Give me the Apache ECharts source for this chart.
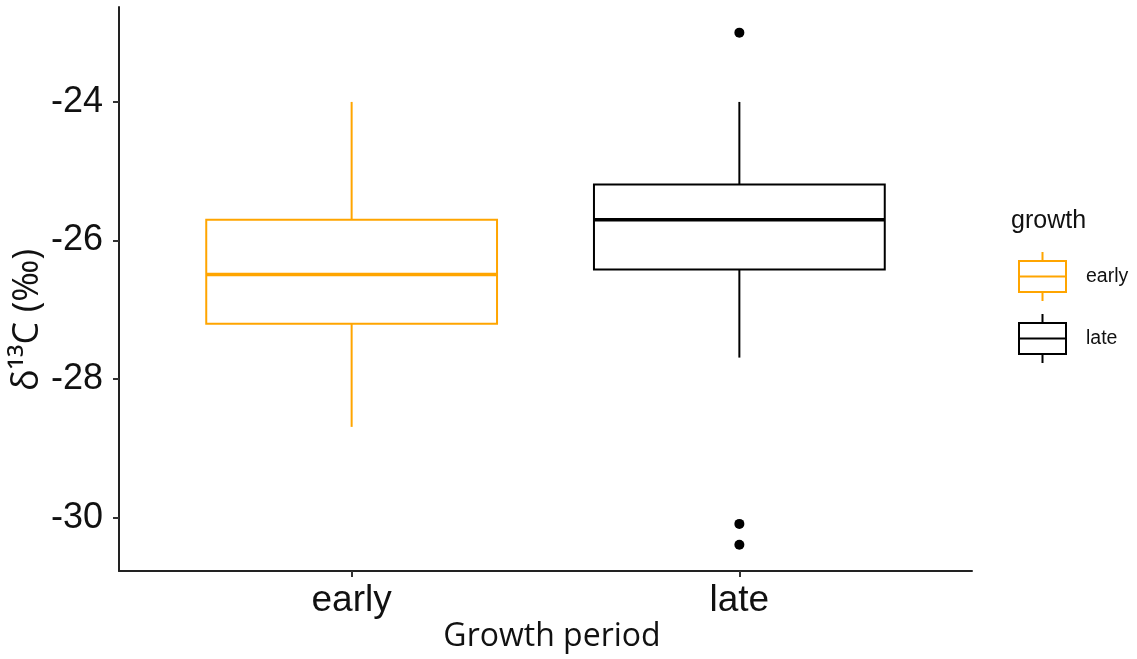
<!DOCTYPE html>
<html><head><meta charset="utf-8">
<script src="https://cdn.jsdelivr.net/npm/echarts@6/dist/echarts.min.js"></script>
<style>html,body{margin:0;padding:0;background:#fff}#c{width:1137px;height:659px}</style>
</head><body><div id="c"></div>
<script>
// ---- data ----
const categories = ['early', 'late'];
const yTicks = [-30, -28, -26, -24];
// box stats: [min whisker, Q1, median, Q3, max whisker]
const earlyStats = [-28.69, -27.20, -26.49, -25.70, -24.00];
const lateStats  = [-27.69, -26.42, -25.70, -25.19, -24.00];
const lateOutliers = [-23.00, -30.09, -30.39];
const groupColors = ['#FFA500', '#000000'];

// ---- chart ----
const chart = echarts.init(document.getElementById('c'), null, {renderer: 'canvas'});
const numFont = '"Liberation Sans", Arial, sans-serif';
const titleFont = '"Open Sans", "Noto Sans", sans-serif';

function makeRender(color) {
  return function (params, api) {
    const x = api.value(0);
    const lo = api.coord([x, api.value(1)]);
    const q1 = api.coord([x, api.value(2)]);
    const med = api.coord([x, api.value(3)]);
    const q3 = api.coord([x, api.value(4)]);
    const hi = api.coord([x, api.value(5)]);
    const w = api.size([0.75, 0])[0];
    const cx = med[0];
    return {
      type: 'group',
      children: [
        {type: 'line', shape: {x1: cx, y1: hi[1], x2: cx, y2: q3[1]}, style: {stroke: color, lineWidth: 2}},
        {type: 'line', shape: {x1: cx, y1: q1[1], x2: cx, y2: lo[1]}, style: {stroke: color, lineWidth: 2}},
        {type: 'rect', shape: {x: cx - w / 2, y: q3[1], width: w, height: q1[1] - q3[1]},
          style: {fill: '#ffffff', stroke: color, lineWidth: 2}},
        {type: 'line', shape: {x1: cx - w / 2, y1: med[1], x2: cx + w / 2, y2: med[1]},
          style: {stroke: color, lineWidth: 3.6}}
      ]
    };
  };
}

const boxIcon = 'path://M23.5,0L23.5,9M0,9L47,9L47,40L0,40ZM0,24.5L47,24.5M23.5,40L23.5,49';

const option = {
  backgroundColor: '#ffffff',
  animation: false,
  grid: {left: 119, right: 165, top: 7, bottom: 88, containLabel: false},
  title: {
    text: 'growth', left: 1011, top: 209, padding: 0,
    textStyle: {fontFamily: numFont, fontSize: 25, fontWeight: 'normal', color: '#111'}
  },
  legend: {
    orient: 'vertical', left: 1018, top: 251, itemGap: 11, padding: 0,
    itemWidth: 47, itemHeight: 49,
    selectedMode: false,
    textStyle: {fontFamily: numFont, fontSize: 19.5, color: '#111', padding: [0, 0, 0, 15]},
    data: categories.map((c, i) => ({
      name: c, icon: boxIcon,
      itemStyle: {color: 'transparent', borderColor: groupColors[i], borderWidth: 2}
    }))
  },
  xAxis: {
    type: 'value', min: 0.4, max: 2.6,
    axisLine: {show: true, onZero: false, lineStyle: {color: '#222', width: 2}},
    axisTick: {show: true, customValues: [1, 2], length: 6, lineStyle: {color: '#333', width: 2}},
    axisLabel: {
      customValues: [1, 2], margin: 11,
      formatter: v => categories[Math.round(v) - 1] || '',
      fontFamily: numFont, fontSize: 37, color: '#111'
    },
    splitLine: {show: false}
  },
  yAxis: {
    type: 'value', min: -30.77, max: -22.63,
    axisLine: {show: true, lineStyle: {color: '#222', width: 2}},
    axisTick: {show: true, customValues: yTicks, length: 6, lineStyle: {color: '#333', width: 2}},
    axisLabel: {customValues: yTicks, margin: 16, fontFamily: numFont, fontSize: 36, color: '#111'},
    splitLine: {show: false}
  },
  graphic: [
    {
      type: 'text', x: 28, y: 320, rotation: Math.PI / 2,
      style: {text: 'δ¹³C (‰)', font: '36px ' + titleFont, fill: '#111',
        textAlign: 'center', textVerticalAlign: 'middle'}
    },
    {
      type: 'text', x: 552, y: 637,
      style: {text: 'Growth period', font: '32px ' + titleFont, fill: '#111',
        textAlign: 'center', textVerticalAlign: 'middle'}
    }
  ],
  series: [
    {
      name: categories[0], type: 'custom', color: groupColors[0],
      renderItem: makeRender(groupColors[0]),
      encode: {x: 0, y: [1, 2, 3, 4, 5]},
      data: [[1].concat(earlyStats)]
    },
    {
      name: categories[1], type: 'custom', color: groupColors[1],
      renderItem: makeRender(groupColors[1]),
      encode: {x: 0, y: [1, 2, 3, 4, 5]},
      data: [[2].concat(lateStats)]
    },
    {
      name: 'late outliers', type: 'scatter', symbolSize: 10,
      itemStyle: {color: '#000', opacity: 1},
      data: lateOutliers.map(v => [2, v])
    }
  ]
};
chart.setOption(option);
</script>
</body></html>
